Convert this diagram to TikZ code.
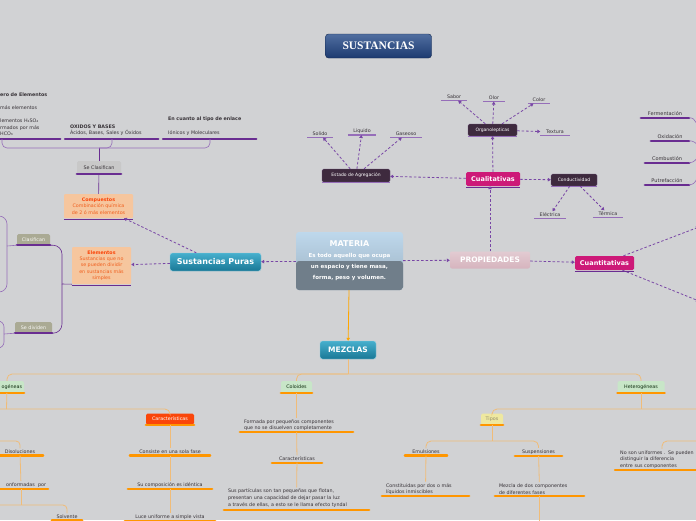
\documentclass[tikz,border=0pt]{standalone}
\usepackage{fontspec}
\setmainfont{DejaVu Sans}
\newfontfamily\titlefont{Liberation Serif}
\usetikzlibrary{arrows.meta}

\definecolor{fondo}{RGB}{209,210,212}
\definecolor{morado}{RGB}{105,45,145}
\definecolor{moradoclaro}{RGB}{150,110,185}
\definecolor{flecha}{RGB}{120,70,165}
\definecolor{rosa}{RGB}{205,25,120}
\definecolor{oscuro}{RGB}{62,42,62}
\definecolor{naranja}{RGB}{255,150,0}
\definecolor{naranjaclaro}{RGB}{240,188,120}
\definecolor{turqA}{RGB}{70,175,205}
\definecolor{turqB}{RGB}{25,120,150}
\definecolor{durazno}{RGB}{246,198,158}
\definecolor{rojizo}{RGB}{240,95,30}
\definecolor{rojo}{RGB}{250,70,10}
\definecolor{verdeclaro}{RGB}{200,230,200}
\definecolor{amarillo}{RGB}{238,232,160}
\definecolor{oliva}{RGB}{170,170,148}
\definecolor{grisclaro}{RGB}{200,200,200}
\definecolor{rosado}{RGB}{214,180,190}
\definecolor{texto}{RGB}{55,50,55}
\definecolor{azulA}{RGB}{80,110,160}
\definecolor{azulB}{RGB}{28,58,112}
\definecolor{celeste}{RGB}{190,216,236}
\definecolor{pizarra}{RGB}{112,126,138}

\begin{document}
\begin{tikzpicture}[x=1pt, y=-1pt,
	lineap/.style={append after command={(\tikzlastnode.south west) edge[draw=morado, line width=2.2pt, line cap=round] (\tikzlastnode.south east)}},
	lineal/.style={append after command={(\tikzlastnode.south west) edge[draw=moradoclaro, line width=1.1pt] (\tikzlastnode.south east)}},
	lineab/.style={append after command={([yshift=-1.2pt]\tikzlastnode.south west) edge[draw=morado, line width=0.8pt] ([yshift=-1.2pt]\tikzlastnode.south east)}},
	lineao/.style={append after command={(\tikzlastnode.south west) edge[draw=naranja, line width=2.2pt, line cap=round] (\tikzlastnode.south east)}},
	titulo/.style={rounded corners=3pt, minimum width=106pt, minimum height=24pt, top color=azulA, bottom color=azulB, draw=azulB!70!black, line width=0.4pt, text=white, font=\titlefont\bfseries\fontsize{11.5}{12}\selectfont},
	materiabox/.style={rounded corners=3pt, minimum width=107pt, minimum height=58pt, align=center, top color=celeste, bottom color=pizarra!45!celeste, text=white, font=\bfseries\fontsize{5.5}{11}\selectfont,
		path picture={\fill[pizarra] (path picture bounding box.west) rectangle (path picture bounding box.south east);}},
	propbox/.style={rounded corners=2pt, minimum width=80pt, minimum height=17pt, top color=rosado!70!white, bottom color=rosado, text=white, font=\bfseries\fontsize{7.5}{8}\selectfont},
	principal/.style={rounded corners=2.5pt, top color=turqA, bottom color=turqB, draw=turqA!60!white, line width=0.4pt, text=white, font=\bfseries\fontsize{8}{9}\selectfont},
	rosabox/.style={rounded corners=1.5pt, fill=rosa, text=white, inner sep=1pt, font=\bfseries\fontsize{6.5}{7}\selectfont, lineab},
	cajaosc/.style={rounded corners=1.5pt, fill=oscuro, draw=moradoclaro!50!oscuro, line width=0.3pt, text=white, inner sep=1pt, font=\fontsize{4.5}{5}\selectfont, lineal},
	hoja/.style={inner sep=1.5pt, text=texto, font=\fontsize{4.8}{6}\selectfont, lineal},
	tema/.style={inner sep=1.5pt, text=texto, font=\fontsize{5}{6.3}\selectfont, lineap},
	grupo/.style={align=left, inner xsep=5pt, inner ysep=3pt, text=texto, font=\fontsize{4.8}{6.5}\selectfont, lineap},
	cajagris/.style={rounded corners=1.5pt, fill=grisclaro, text=texto, inner sep=1pt, font=\fontsize{4.8}{6}\selectfont, lineap},
	cajaoliva/.style={rounded corners=1.5pt, fill=oliva, text=white!92!oliva, inner sep=1pt, font=\fontsize{4.8}{6}\selectfont, lineap},
	cajadur/.style={rounded corners=1pt, fill=durazno, align=center, text=rojizo, inner sep=1pt, font=\fontsize{4.8}{6.3}\selectfont, lineab},
	verdebox/.style={rounded corners=1.5pt, fill=verdeclaro, text=texto!70!green!40!black, inner sep=1pt, minimum height=12pt, font=\fontsize{4.8}{6}\selectfont, lineao},
	hojao/.style={inner sep=1.5pt, text=texto, font=\fontsize{4.8}{6.5}\selectfont, lineao},
	discont/.style={draw=flecha, line width=0.8pt, dash pattern=on 2.5pt off 2pt, -{Triangle[length=3pt,width=3.5pt]}},
	rama/.style={draw=morado, line width=0.6pt},
	ramac/.style={draw=moradoclaro, line width=0.6pt},
	ramao/.style={draw=naranjaclaro, line width=0.8pt}]

\path[use as bounding box, fill=fondo] (0,0) rectangle (696,520);

% centro
\node[titulo] (titulo) at (378.5,46) {SUSTANCIAS};
\node[materiabox] (materia) at (349.5,261) {{\fontsize{8}{11}\selectfont MATERIA}\\Es todo aquello que ocupa\\un espacio y tiene masa,\\forma, peso y volumen.};
\node[propbox] (propi) at (490,260) {PROPIEDADES};
\node[principal, minimum width=91pt, minimum height=18pt] (puras) at (215.5,262) {Sustancias Puras};
\node[principal, minimum width=56pt, minimum height=18pt, font=\bfseries\fontsize{7.5}{8}\selectfont] (mezclas) at (348,350) {MEZCLAS};

% propiedades
\node[rosabox, minimum width=54pt, minimum height=14pt] (cuali) at (493,179) {Cualitativas};
\node[rosabox, minimum width=59pt, minimum height=14pt] (cuanti) at (604.5,263) {Cuantitativas};
\node[cajaosc, minimum width=68pt, minimum height=13pt] (estado) at (356,175.5) {Estado de Agregación};
\node[cajaosc, minimum width=49pt, minimum height=12pt] (organo) at (492.5,130) {Organolepticas};
\node[cajaosc, minimum width=46pt, minimum height=12pt] (conduc) at (574,180) {Conductividad};
\node[hoja, minimum width=26pt] (sabor) at (454,97) {Sabor};
\node[hoja, minimum width=22pt] (olor) at (494,98) {Olor};
\node[hoja, minimum width=22pt] (color) at (539,100) {Color};
\node[hoja, minimum width=29pt] (textura) at (555,132) {Textura};
\node[hoja, minimum width=25pt] (solido) at (320,134) {Solido};
\node[hoja, minimum width=28pt] (liquido) at (362,131) {Liquido};
\node[hoja, minimum width=31pt] (gaseoso) at (406,134) {Gaseoso};
\node[hoja, minimum width=31pt] (electrica) at (550,215) {Eléctrica};
\node[hoja, minimum width=30pt] (termica) at (608,214) {Térmica};
\node[tema, minimum width=48pt] (ferm) at (665,114) {Fermentación};
\node[tema, minimum width=38pt] (oxid) at (670,137) {Oxidación};
\node[tema, minimum width=44pt] (comb) at (667,159) {Combustión};
\node[tema, minimum width=44pt] (putre) at (667,181) {Putrefacción};
\coordinate (cuantA) at (699,227);
\coordinate (cuantB) at (699,301);
\coordinate (rhub) at (708,150);

% sustancias puras
\node[grupo, text width=55pt, anchor=south west] (grpA) at (-5,139) {\textbf{ero de Elementos}\\[6.5pt]más elementos\\[6.5pt]lementos H₂SO₄\\rmados por más\\HCO₃};
\node[grupo, text width=83pt, anchor=south west] (grpB) at (65,139) {\textbf{OXIDOS Y BASES}\\Ácidos, Bases, Sales y Óxidos};
\node[grupo, text width=83pt, anchor=south west] (grpC) at (163,139) {\textbf{En cuanto al tipo de enlace}\\[7.5pt]Iónicos y Moleculares};
\node[cajagris, minimum width=44pt, minimum height=13pt] (seclas) at (99,167.5) {Se Clasifican};
\node[cajadur, minimum width=69pt, minimum height=24pt] (compu) at (98.5,206) {\textcolor{rojo}{\textbf{Compuestos}}\\Combinación química\\de 2 ó más elementos};
\node[cajadur, minimum width=59pt, minimum height=37pt] (elem) at (101.5,265.5) {\textcolor{rojo}{\textbf{Elementos}}\\Sustancias que no\\se pueden dividir\\en sustancias más\\simples};
\node[cajaoliva, minimum width=33pt, minimum height=11pt] (clasif) at (33.5,239.5) {Clasifican};
\node[cajaoliva, minimum width=37pt, minimum height=11pt] (sediv) at (33.5,327.5) {Se dividen};
\coordinate (hubA) at (99,148);
\coordinate (hubE) at (62,284);
\coordinate (clhub) at (7,246);
\coordinate (cl1) at (-6,216);
\coordinate (cl2) at (-6,292);
\coordinate (sdhub) at (4,334);
\coordinate (sd1) at (-6,321);
\coordinate (sd2) at (-6,348);

% mezclas
\node[verdebox, text width=30pt, align=right, inner xsep=2pt] (homog) at (7,387) {ogéneas};
\node[verdebox, minimum width=31pt] (coloid) at (296.5,387) {Coloides};
\node[verdebox, minimum width=47pt] (hetero) at (641,387) {Heterogéneas};
\node[rounded corners=1.5pt, fill=rojo, text=white, inner sep=1pt, minimum width=48pt, minimum height=11pt, font=\fontsize{4.8}{6}\selectfont, lineao] (caract) at (170,419) {Características};
\node[rounded corners=1.5pt, fill=amarillo, text=texto!50!amarillo, inner sep=1pt, minimum width=22pt, minimum height=11pt, font=\fontsize{4.8}{6}\selectfont, lineao] (tipos) at (492,419) {Tipos};
\node[hojao, minimum width=80pt] (consiste) at (170,452) {Consiste en una sola fase};
\node[hojao, minimum width=84pt] (compos) at (170,485) {Su composición es idéntica};
\node[hojao, minimum width=90pt] (luce) at (170,517) {Luce uniforme a simple vista};
\node[hojao, minimum width=46pt] (disol) at (20,452) {Disoluciones};
\node[hojao, text width=50pt, align=right, inner xsep=2pt] (conform) at (21,485) {onformadas\ \ por};
\node[hojao, minimum width=30pt] (solv) at (67,517) {Solvente};
\node[hojao, text width=105pt, inner xsep=4pt, align=left] (formada) at (296.5,425) {Formada por pequeños componentes\\que no se disuelven completamente};
\node[hojao, minimum width=50pt] (caract2) at (297,459) {Características};
\node[hojao, text width=137pt, inner xsep=4pt, align=left, font=\fontsize{4.8}{7}\selectfont] (partic) at (296.5,498.5) {Sus partículas son tan pequeñas que flotan,\\presentan una capacidad de dejar pasar la luz\\a través de ellas, a esto se le llama efecto tyndal};
\node[hojao, minimum width=42pt] (emul) at (426,452) {Emulsiones};
\node[hojao, minimum width=47pt] (susp) at (538.5,452) {Suspensiones};
\node[hojao, text width=79pt, inner xsep=4pt, align=left] (constit) at (425.5,489) {Constituidas por dos o más\\líquidos inmiscibles};
\node[hojao, text width=81pt, inner xsep=4pt, align=left] (mezcla) at (539.5,489) {Mezcla de dos componentes\\de diferentes fases};
\node[hojao, text width=90pt, inner xsep=5pt, align=left, anchor=south west] (nouni) at (615,470) {No son uniformes . Se pueden\\distinguir la diferencia\\entre sus componentes};
\coordinate (mhub) at (348,374);
\coordinate (hhub) at (6.5,409);
\coordinate (hizq) at (-6,409);
\coordinate (dizq) at (-6,441);
\coordinate (cizq) at (-6,505);
\coordinate (thub) at (641,409);
\coordinate (tder) at (702,409);
\coordinate (tiphub) at (492,441);
\coordinate (mabajo) at (539.5,528);
\coordinate (nder) at (702,441);

% conectores
\draw[draw=naranja!85!yellow, line width=0.8pt, -{Triangle[length=3pt,width=3.5pt]}] (materia) -- (mezclas);
\draw[discont] (materia) -- (puras);
\draw[discont] (materia) -- (propi);
\draw[discont] (puras) -- (compu);
\draw[discont] (puras) -- (elem);
\draw[discont] (propi.north) -- (propi.north |- cuali.south);
\draw[discont] (propi) -- (cuanti);
\draw[discont] (cuali) -- (estado);
\draw[discont] (cuali) -- (organo);
\draw[discont] (cuali) -- (conduc);
\foreach \h in {sabor,olor,color,textura}
	\draw[discont] (organo) -- (\h);
\foreach \h in {solido,liquido,gaseoso}
	\draw[discont] (estado) -- (\h);
\foreach \h in {electrica,termica}
	\draw[discont] (conduc) -- (\h);
\draw[discont] (cuanti) -- (cuantA);
\draw[discont] (cuanti) -- (cuantB);
\foreach \t in {ferm,oxid,comb,putre}
	\draw[ramac] (\t.south east) to[out=0,in=180] (rhub);

\draw[rama] (compu) -- (seclas);
\draw[rama] (seclas) -- (hubA);
\draw[ramac, rounded corners=5pt] ([xshift=7pt]grpA.south west) |- (hubA);
\draw[ramac, rounded corners=5pt] ([xshift=47pt]grpB.south west) |- (hubA);
\draw[ramac, rounded corners=5pt] ([xshift=47pt]grpC.south west) |- (hubA);
\draw[rama] (elem.south west) -- (hubE);
\draw[rama, rounded corners=9pt] (clasif.south east) -| (hubE);
\draw[rama, rounded corners=9pt] (sediv.south east) -| (hubE);
\draw[ramac] (clasif.south west) -- (clhub);
\draw[ramac, rounded corners=8pt] (cl1) -| (clhub) |- (cl2);
\draw[ramac] (sediv.south west) -- (sdhub);
\draw[ramac, rounded corners=6pt] (sd1) -| (sdhub) |- (sd2);

\draw[ramao] (mezclas) -- (mhub);
\draw[ramao, rounded corners=5pt] (homog) |- (mhub) -| (hetero);
\draw[ramao, rounded corners=5pt] (coloid) |- (mhub);
\draw[ramao] (homog) -- (hhub);
\draw[ramao, rounded corners=5pt] (hizq) -| (caract);
\draw[ramao, rounded corners=4pt] (dizq) -| (disol);
\draw[ramao] (caract) -- (consiste);
\draw[ramao] (consiste) -- (compos);
\draw[ramao] (compos) -- (luce);
\draw[ramao] (disol) -- (conform);
\draw[ramao] (conform) -- (conform |- cizq);
\draw[ramao, rounded corners=4pt] (cizq) -| (solv);
\draw[ramao] (coloid) -- (formada);
\draw[ramao] (formada) -- (caract2);
\draw[ramao] (caract2) -- (partic);
\draw[ramao] (hetero) -- (thub);
\draw[ramao, rounded corners=5pt] (tder) -| (tipos);
\draw[ramao] (tipos) -- (tiphub);
\draw[ramao, rounded corners=5pt] (emul) |- (tiphub) -| (susp);
\draw[ramao] (emul) -- (constit);
\draw[ramao] (susp) -- (mezcla);
\draw[ramao] (mezcla) -- (mabajo);
\draw[ramao, rounded corners=5pt] (nder) -| ([xshift=47pt]nouni.north west);
\end{tikzpicture}
\end{document}
